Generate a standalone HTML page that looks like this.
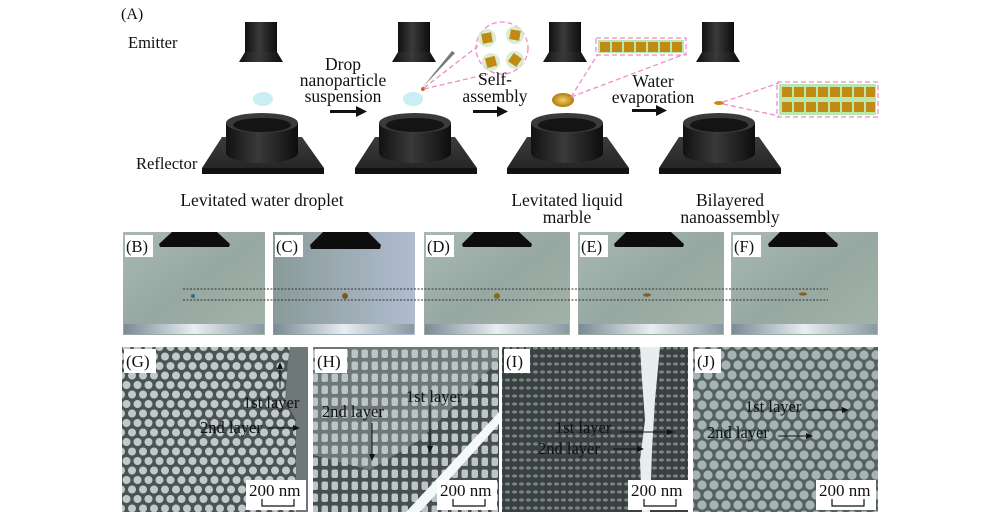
<!DOCTYPE html>
<html><head><meta charset="utf-8"><style>
html,body{margin:0;padding:0;background:#fff;width:1000px;height:522px;overflow:hidden}
svg{display:block}
text{font-family:"Liberation Serif",serif;fill:#111}
</style></head><body>
<svg width="1000" height="522" viewBox="0 0 1000 522" xmlns="http://www.w3.org/2000/svg">
<defs>
<linearGradient id="blk" x1="0" x2="1"><stop offset="0" stop-color="#111"/><stop offset=".45" stop-color="#3a3a3a"/><stop offset="1" stop-color="#0d0d0d"/></linearGradient>
<linearGradient id="plate" x1="0" y1="0" x2="0" y2="1"><stop offset="0" stop-color="#3c3c3c"/><stop offset="1" stop-color="#262626"/></linearGradient>
<linearGradient id="ph" x1="0" y1="0" x2="1" y2="1"><stop offset="0" stop-color="#a9b8b3"/><stop offset=".5" stop-color="#97a8a2"/><stop offset="1" stop-color="#a3b3a8"/></linearGradient>
<linearGradient id="phc" x1="0" y1="0" x2="1" y2="0"><stop offset="0" stop-color="#8a9a98"/><stop offset="1" stop-color="#b0bccf"/></linearGradient>
<linearGradient id="sil" x1="0" x2="1"><stop offset="0" stop-color="#7b8a95"/><stop offset=".5" stop-color="#e8eef2"/><stop offset="1" stop-color="#8a98a2"/></linearGradient>
<radialGradient id="gold"><stop offset="0" stop-color="#f3d060"/><stop offset="1" stop-color="#b07b10"/></radialGradient>
<pattern id="pg" width="11" height="19" patternUnits="userSpaceOnUse"><rect width="11" height="19" fill="#4a5454"/><circle cx="5.5" cy="5" r="4" fill="#c0caca"/><circle cx="0" cy="14.5" r="4" fill="#c0caca"/><circle cx="11" cy="14.5" r="4" fill="#c0caca"/></pattern>
<pattern id="ph2" width="10" height="12" patternUnits="userSpaceOnUse"><rect width="10" height="12" fill="#465050"/><rect x="1.5" y="1.5" width="6.5" height="8.5" rx="2" fill="#bcc6c6"/></pattern>
<pattern id="pi" width="7" height="8" patternUnits="userSpaceOnUse"><rect width="7" height="8" fill="#3a4141"/><ellipse cx="3.5" cy="4" rx="2.6" ry="1.6" fill="#7a8585"/></pattern>
<pattern id="pj" width="12" height="20" patternUnits="userSpaceOnUse"><rect width="12" height="20" fill="#556161"/><circle cx="6" cy="5" r="4.6" fill="#a6b4b4"/><circle cx="0" cy="15" r="4.6" fill="#a6b4b4"/><circle cx="12" cy="15" r="4.6" fill="#a6b4b4"/></pattern>
<g id="emit"><rect x="-16" y="0" width="32" height="32" fill="url(#blk)"/><path d="M-16 30 L16 30 L22 40 L-22 40 Z" fill="url(#blk)"/></g>
<g id="refl"><path d="M-40 14 L40 14 L62 45 L-60 45 Z" fill="url(#plate)"/><path d="M-60 45 L62 45 L62 51 L-60 51 Z" fill="#111"/><path d="M-36 0 L-36 30 A36 10 0 0 0 36 30 L36 0 Z" fill="url(#blk)"/><ellipse cx="0" cy="0" rx="36" ry="10" fill="#3a3a3a"/><ellipse cx="0" cy="2" rx="29" ry="7" fill="#141414"/></g>
</defs>

<!-- Panel A -->
<text x="121" y="19" font-size="16">(A)</text>
<text x="128" y="48" font-size="16.5">Emitter</text>
<text x="136" y="169" font-size="16.5">Reflector</text>
<use href="#emit" x="261" y="22"/><use href="#emit" x="414" y="22"/><use href="#emit" x="565" y="22"/><use href="#emit" x="718" y="22"/>
<ellipse cx="263" cy="99" rx="10" ry="7" fill="#c9eef4"/>
<ellipse cx="413" cy="99" rx="10" ry="7" fill="#c9eef4"/>
<ellipse cx="563" cy="100" rx="11" ry="7" fill="url(#gold)"/>
<ellipse cx="719" cy="103" rx="5" ry="2" fill="#c98a18"/>
<use href="#refl" x="262" y="123"/><use href="#refl" x="415" y="123"/><use href="#refl" x="567" y="123"/><use href="#refl" x="719" y="123"/>
<path d="M422 88 L452 51 L455 53 Z" fill="#777"/><circle cx="423" cy="89" r="2" fill="#c07010"/>
<g stroke="#f08cc8" stroke-width="1.3" stroke-dasharray="5 3" fill="none">
<circle cx="502" cy="48" r="26"/>
<line x1="424" y1="88" x2="478" y2="46"/><line x1="424" y1="89" x2="488" y2="74"/>
<rect x="596" y="38" width="90" height="17"/>
<line x1="571" y1="97" x2="598" y2="54"/><line x1="571" y1="97" x2="685" y2="54"/>
<rect x="777" y="82" width="101" height="35"/>
<line x1="723" y1="102" x2="779" y2="83"/><line x1="723" y1="104" x2="779" y2="116"/>
</g>
<g fill="#cfe9c9" opacity=".8"><circle cx="487" cy="38" r="9"/><circle cx="515" cy="35" r="9"/><circle cx="491" cy="62" r="9"/><circle cx="515" cy="60" r="9"/></g>
<g fill="#c08a14"><rect x="482" y="33" width="10" height="10" transform="rotate(-10 487 38)"/><rect x="510" y="30" width="10" height="10" transform="rotate(10 515 35)"/><rect x="486" y="57" width="10" height="10" transform="rotate(-15 491 62)"/><rect x="510" y="55" width="10" height="10" transform="rotate(35 515 60)"/></g>
<rect x="598" y="40" width="86" height="13" fill="#9bde8a" opacity=".7"/>
<g fill="#c08a14"><rect x="600" y="42" width="10" height="10"/><rect x="612" y="42" width="10" height="10"/><rect x="624" y="42" width="10" height="10"/><rect x="636" y="42" width="10" height="10"/><rect x="648" y="42" width="10" height="10"/><rect x="660" y="42" width="10" height="10"/><rect x="672" y="42" width="10" height="10"/></g>
<rect x="779" y="84" width="97" height="31" fill="#9bde8a" opacity=".7"/>
<g fill="#c08a14">
<rect x="782" y="87" width="10" height="10"/><rect x="794" y="87" width="10" height="10"/><rect x="806" y="87" width="10" height="10"/><rect x="818" y="87" width="10" height="10"/><rect x="830" y="87" width="10" height="10"/><rect x="842" y="87" width="10" height="10"/><rect x="854" y="87" width="10" height="10"/><rect x="866" y="87" width="9" height="10"/>
<rect x="782" y="102" width="10" height="10"/><rect x="794" y="102" width="10" height="10"/><rect x="806" y="102" width="10" height="10"/><rect x="818" y="102" width="10" height="10"/><rect x="830" y="102" width="10" height="10"/><rect x="842" y="102" width="10" height="10"/><rect x="854" y="102" width="10" height="10"/><rect x="866" y="102" width="9" height="10"/></g>
<g font-size="17.5" text-anchor="middle">
<text x="343" y="70">Drop</text><text x="343" y="86">nanoparticle</text><text x="343" y="102">suspension</text>
<text x="495" y="85">Self-</text><text x="495" y="102">assembly</text>
<text x="653" y="87">Water</text><text x="653" y="103">evaporation</text>
<text x="262" y="206">Levitated water droplet</text>
<text x="567" y="206">Levitated liquid</text><text x="567" y="223">marble</text>
<text x="730" y="206">Bilayered</text><text x="730" y="223">nanoassembly</text>
</g>
<g fill="#111"><rect x="330" y="110" width="28" height="3"/><path d="M356 106 L367 111.5 L356 117Z"/>
<rect x="473" y="110" width="26" height="3"/><path d="M497 106 L508 111.5 L497 117Z"/>
<rect x="632" y="109" width="26" height="3"/><path d="M656 105 L667 110.5 L656 116Z"/></g>

<!-- Photo row -->
<g>
<rect x="123" y="232" width="142" height="103" fill="url(#ph)"/>
<rect x="273" y="232" width="142" height="103" fill="url(#phc)"/>
<rect x="424" y="232" width="146" height="103" fill="url(#ph)"/>
<rect x="578" y="232" width="146" height="103" fill="url(#ph)"/>
<rect x="731" y="232" width="147" height="103" fill="url(#ph)"/>
<g fill="#0d0d0d">
<path d="M172 232 L217 232 L230 244 L229 247 L160 247 L159 244 Z"/>
<path d="M323 232 L368 232 L381 245 L380 249 L311 249 L310 245 Z"/>
<path d="M474 232 L519 232 L532 244 L531 247 L463 247 L462 244 Z"/>
<path d="M626 232 L671 232 L684 244 L683 247 L615 247 L614 244 Z"/>
<path d="M780 232 L825 232 L838 244 L837 247 L769 247 L768 244 Z"/></g>
<g fill="url(#sil)"><rect x="124" y="324" width="140" height="10"/><rect x="274" y="324" width="140" height="10"/><rect x="425" y="324" width="144" height="10"/><rect x="579" y="324" width="144" height="10"/><rect x="732" y="324" width="145" height="10"/></g>
<g stroke="#333" stroke-width="1" stroke-dasharray="2 1.5"><line x1="183" y1="289" x2="828" y2="289"/><line x1="183" y1="300" x2="828" y2="300"/></g>
<circle cx="193" cy="296" r="2" fill="#3a6a80"/>
<circle cx="345" cy="296" r="3" fill="#7a5a20"/><circle cx="497" cy="296" r="3" fill="#8a6a20"/>
<ellipse cx="647" cy="295" rx="4" ry="1.8" fill="#8a5a30"/><ellipse cx="803" cy="294" rx="4" ry="1.6" fill="#8a5a20"/>
<g fill="#fff"><rect x="125" y="235" width="28" height="22"/><rect x="275" y="235" width="28" height="22"/><rect x="426" y="235" width="28" height="22"/><rect x="580" y="235" width="28" height="22"/><rect x="733" y="235" width="28" height="22"/></g>
<g font-size="16.5"><text x="126" y="252">(B)</text><text x="276" y="252">(C)</text><text x="427" y="252">(D)</text><text x="581" y="252">(E)</text><text x="734" y="252">(F)</text></g>
</g>

<!-- SEM row -->
<rect x="122" y="347" width="186" height="165" fill="url(#pg)"/>
<path d="M290 347 L308 347 L308 512 L296 512 L296 420 L285 400 L288 360 Z" fill="#6f7878"/>
<rect x="313" y="347" width="186" height="165" fill="url(#ph2)"/>
<path d="M313 347 L499 347 L499 360 L420 440 L370 470 L313 455 Z" fill="#b9c4c4" opacity=".35"/>
<path d="M499 412 L499 424 L420 512 L406 512 Z" fill="#f4f8f8"/>
<rect x="502" y="347" width="186" height="165" fill="url(#pi)"/>
<path d="M640 347 L660 347 L655 400 L652 450 L650 512 L642 512 L640 460 L645 420 L642 380 Z" fill="#e8eeee"/>
<rect x="693" y="347" width="185" height="165" fill="url(#pj)"/>
<g fill="#fff">
<rect x="124" y="349" width="32" height="24"/><rect x="315" y="349" width="32" height="24"/><rect x="504" y="349" width="26" height="24"/><rect x="695" y="349" width="26" height="24"/>
<rect x="246" y="480" width="60" height="30"/><rect x="437" y="480" width="60" height="30"/><rect x="628" y="480" width="60" height="30"/><rect x="816" y="480" width="60" height="30"/>
</g>
<g font-size="17"><text x="126" y="367">(G)</text><text x="317" y="367">(H)</text><text x="506" y="367">(I)</text><text x="697" y="367">(J)</text></g>
<g font-size="17"><text x="249" y="496">200 nm</text><text x="440" y="496">200 nm</text><text x="631" y="496">200 nm</text><text x="819" y="496">200 nm</text></g>
<g stroke="#111" stroke-width="1.2" fill="none">
<path d="M262 499 V506 H294 V499"/><path d="M453 499 V506 H485 V499"/><path d="M644 499 V506 H676 V499"/><path d="M832 499 V506 H864 V499"/>
</g>
<g font-size="16.5">
<text x="243" y="408">1st layer</text><text x="200" y="433">2nd layer</text>
<text x="322" y="417">2nd layer</text><text x="406" y="402">1st layer</text>
<text x="555" y="433">1st layer</text><text x="538" y="454">2nd layer</text>
<text x="745" y="412">1st layer</text><text x="707" y="438">2nd layer</text>
</g>
<g stroke="#111" stroke-width="1">
<line x1="280" y1="388" x2="280" y2="366"/><line x1="268" y1="428" x2="296" y2="428"/>
<line x1="372" y1="423" x2="372" y2="457"/><line x1="430" y1="405" x2="430" y2="449"/>
<line x1="620" y1="432" x2="670" y2="432"/><line x1="613" y1="449" x2="640" y2="449"/>
<line x1="808" y1="410" x2="845" y2="410"/><line x1="778" y1="436" x2="809" y2="436"/>
</g>
<g fill="#111">
<path d="M280 362 L277 369 L283 369Z"/><path d="M300 428 L293 425 L293 431Z"/>
<path d="M372 461 L369 454 L375 454Z"/><path d="M430 453 L427 446 L433 446Z"/>
<path d="M674 432 L667 429 L667 435Z"/><path d="M644 449 L637 446 L637 452Z"/>
<path d="M849 410 L842 407 L842 413Z"/><path d="M813 436 L806 433 L806 439Z"/>
</g>
</svg>
</body></html>
